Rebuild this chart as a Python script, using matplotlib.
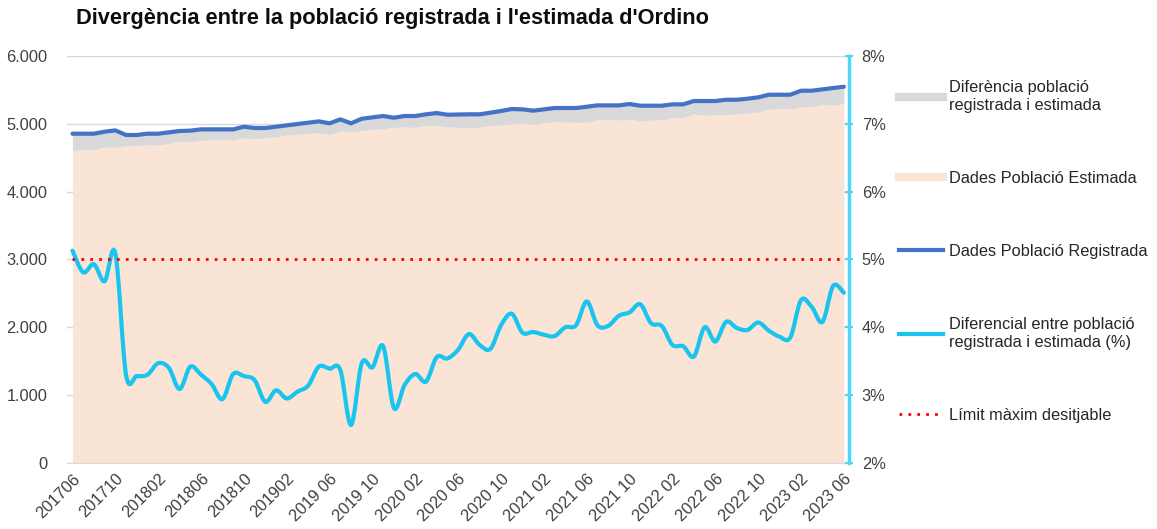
import matplotlib.pyplot as plt
import numpy as np
from matplotlib.path import Path
from matplotlib.patches import PathPatch
from matplotlib.lines import Line2D
from matplotlib.ticker import FuncFormatter

plt.rcParams['font.family'] = ['Liberation Sans', 'DejaVu Sans']

# monthly data, 2017-06 .. 2023-06
registered = [4855, 4855, 4855, 4885, 4904, 4836, 4836, 4855, 4855, 4875,
              4895, 4900, 4919, 4919, 4919, 4919, 4958, 4939, 4939, 4958,
              4978, 4998, 5017, 5037, 5008, 5067, 5008, 5076, 5096, 5116,
              5091, 5116, 5116, 5141, 5160, 5135, 5138, 5141, 5141, 5165,
              5190, 5219, 5214, 5195, 5214, 5234, 5234, 5234, 5253, 5273,
              5273, 5273, 5293, 5268, 5268, 5268, 5288, 5288, 5337, 5337,
              5337, 5356, 5356, 5371, 5391, 5430, 5430, 5430, 5489, 5489,
              5509, 5529, 5548]
diff_pct = [5.13, 4.81, 4.93, 4.68, 5.09, 3.30, 3.28, 3.30, 3.47, 3.40,
            3.09, 3.42, 3.30, 3.16, 2.94, 3.31, 3.28, 3.22, 2.90, 3.07,
            2.95, 3.05, 3.14, 3.42, 3.39, 3.37, 2.56, 3.47, 3.41, 3.72,
            2.81, 3.15, 3.31, 3.20, 3.56, 3.54, 3.67, 3.90, 3.74, 3.68,
            4.03, 4.20, 3.92, 3.93, 3.89, 3.87, 4.00, 4.03, 4.38, 4.03,
            4.02, 4.17, 4.22, 4.34, 4.06, 4.02, 3.74, 3.72, 3.57, 4.00,
            3.79, 4.08, 3.99, 3.96, 4.07, 3.95, 3.86, 3.85, 4.40, 4.30,
            4.08, 4.61, 4.51]
limit_pct = 5.0
tick_labels = ['201706', '201710', '201802', '201806', '201810', '201902',
               '2019 06', '2019 10', '2020 02', '2020 06', '2020 10',
               '2021 02', '2021 06', '2021 10', '2022 02', '2022 06',
               '2022 10', '2023 02', '2023 06']

reg = np.array(registered, dtype=float)
pct = np.array(diff_pct)
est = reg * (1 - pct / 100)
x = np.arange(len(reg))

c_est = '#fae4d6'
c_gap = '#d9d9d9'
c_reg = '#4472c4'
c_pct = '#19c5ef'
c_axis = '#4fd4f6'
c_txt = '#404040'
fs = 11.8

fig = plt.figure(figsize=(11.57, 5.29), dpi=100)
ax = fig.add_axes([0.058, 0.125, 0.676, 0.769])
ax2 = ax.twinx()

ax.fill_between(x, 0, est, color=c_est, lw=0, zorder=2)
ax.fill_between(x, est, reg, color=c_gap, lw=0, zorder=2)
ax.plot(x, reg, color=c_reg, lw=3, zorder=3, solid_capstyle='round')

ax.set_xlim(-0.5, len(reg) - 0.5)
ax.set_ylim(0, 6000)
ax.set_yticks(np.arange(0, 6001, 1000))
ax.yaxis.set_major_formatter(FuncFormatter(lambda v, p: f'{int(v):,}'.replace(',', '.')))
ax.grid(axis='y', color='#d9d9d9', lw=1)
ax.set_axisbelow(True)
ax.set_xticks(x[::4])
ax.set_xticklabels(tick_labels, rotation=45, ha='right', rotation_mode='anchor')
ax.tick_params(axis='x', length=0, pad=6, labelsize=fs, labelcolor=c_txt)
ax.tick_params(axis='y', length=0, pad=14, labelsize=fs, labelcolor=c_txt)
for s in ['top', 'left', 'right']:
    ax.spines[s].set_visible(False)
ax.spines['bottom'].set_color('#d9d9d9')

# smooth line like Excel (Catmull-Rom bezier)
pts = np.column_stack([x, pct])
ext = np.vstack([pts[0], pts, pts[-1]])
verts = [pts[0]]
codes = [Path.MOVETO]
for k in range(len(pts) - 1):
    p0, p1, p2, p3 = ext[k], ext[k + 1], ext[k + 2], ext[k + 3]
    verts += [p1 + (p2 - p0) / 6, p2 - (p3 - p1) / 6, p2]
    codes += [Path.CURVE4] * 3
ax2.add_patch(PathPatch(Path(verts, codes), fill=False, edgecolor=c_pct,
                        lw=3, zorder=4, capstyle='round'))
ax2.plot([x[0], x[-1]], [limit_pct, limit_pct], color='#ff0000', lw=2,
         ls=(0, (1, 2.2)), zorder=4)
ax2.set_ylim(2, 8)
ax2.set_yticks(np.arange(2, 9, 1))
ax2.yaxis.set_major_formatter(FuncFormatter(lambda v, p: f'{int(v)}%'))
ax2.tick_params(axis='y', direction='inout', length=6, width=1.5, color=c_axis,
                labelsize=fs, labelcolor=c_txt, pad=6)
for s in ['top', 'left', 'bottom']:
    ax2.spines[s].set_visible(False)
ax2.spines['right'].set_color(c_axis)
ax2.spines['right'].set_linewidth(2.5)

handles = [Line2D([], [], color=c_gap, lw=6),
           Line2D([], [], color=c_est, lw=6),
           Line2D([], [], color=c_reg, lw=3),
           Line2D([], [], color=c_pct, lw=3),
           Line2D([], [], color='#ff0000', lw=2, ls=(0, (1, 2.2)))]
labels = ['Diferència població\nregistrada i estimada',
          'Dades Població Estimada',
          'Dades Població Registrada',
          'Diferencial entre població\nregistrada i estimada (%)',
          'Límit màxim desitjable']
fig.legend(handles, labels, loc='upper left', bbox_to_anchor=(0.764, 0.876),
           frameon=False, fontsize=fs, handlelength=2.7, handletextpad=0.35,
           labelspacing=3.55, labelcolor='#262626')

fig.text(0.066, 0.965, "Divergència entre la població registrada i l'estimada d'Ordino",
         fontsize=15.7, fontweight='bold', va='center', ha='left', color='#0d0d0d')

fig.savefig('out.png', dpi=100)
